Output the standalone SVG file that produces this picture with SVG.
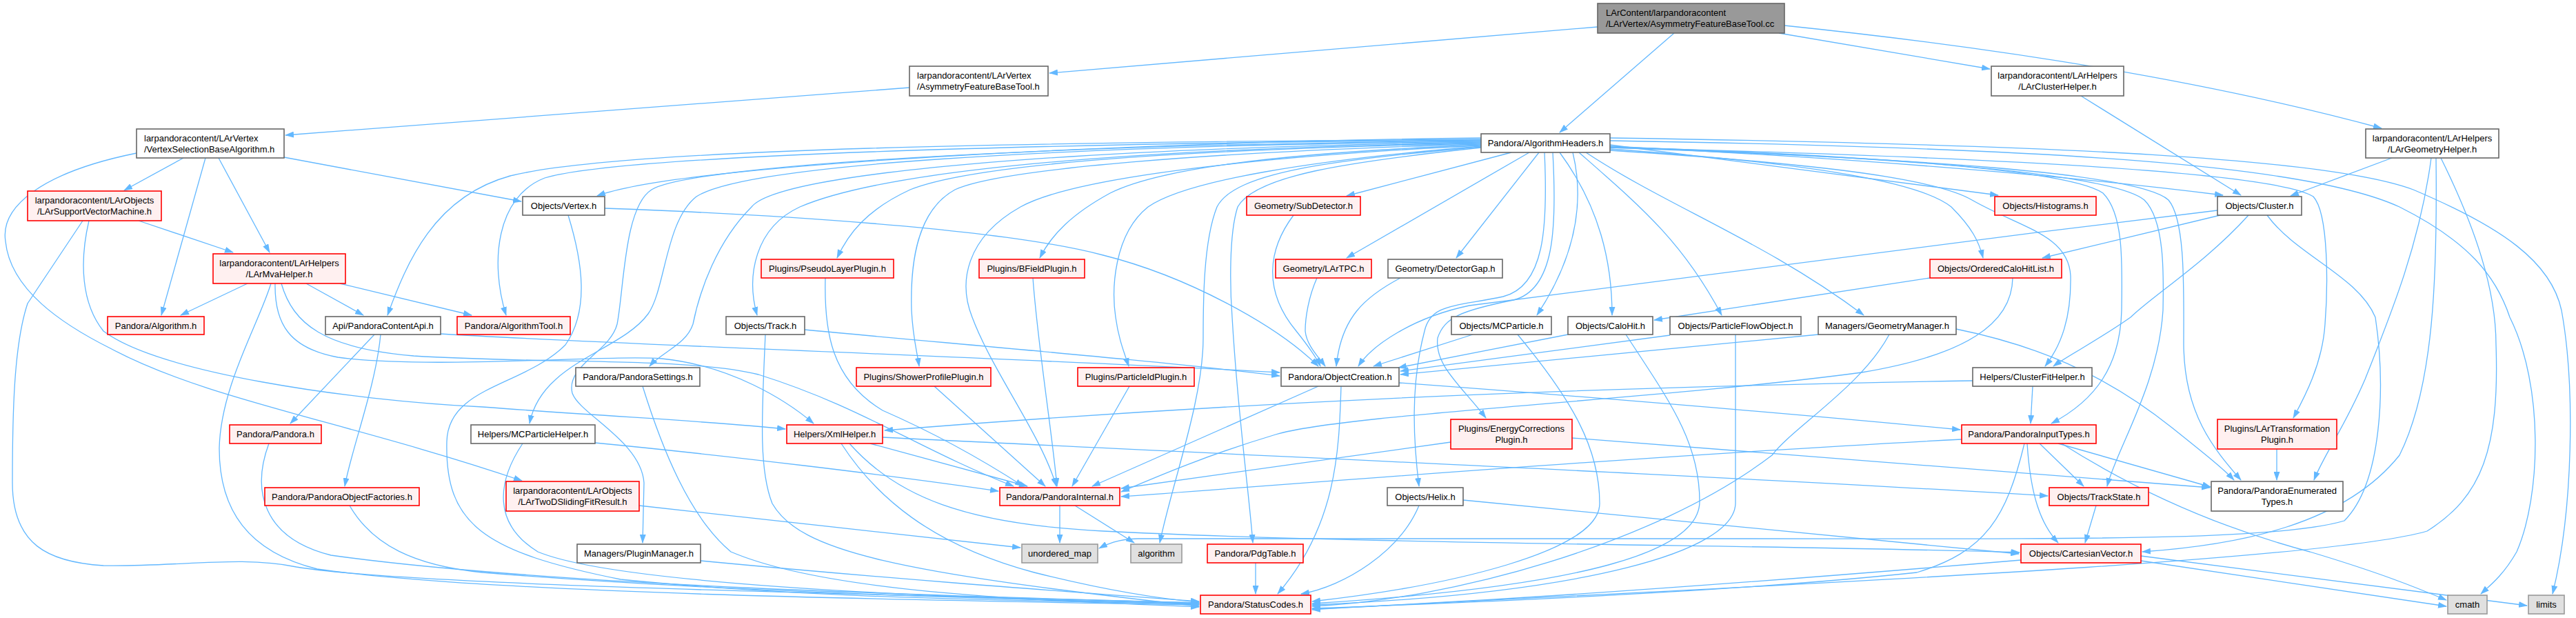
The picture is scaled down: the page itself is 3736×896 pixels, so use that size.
<svg xmlns="http://www.w3.org/2000/svg" width="3736" height="896" viewBox="0 0 3736 896">
<defs>
<style>
.e path{fill:none;stroke:#63b8ff;stroke-width:1.3;marker-end:url(#a)}
rect{stroke-width:1.6}
.w rect{fill:#ffffff;stroke:#666666}
.r rect{fill:#fff0f0;stroke:#ff0000}
.s rect{fill:#e0e0e0;stroke:#999999}
.m rect{fill:#999999;stroke:#666666}
text{font-family:"Liberation Sans",Arial,Helvetica,sans-serif;font-size:13px;fill:#000000;text-anchor:middle}
text.l{text-anchor:start}
</style>
<marker id="a" markerWidth="13" markerHeight="9" refX="12" refY="4.5" orient="auto" markerUnits="userSpaceOnUse"><path d="M0,0 L13,4.5 L0,9 z" fill="#63b8ff"/></marker>
</defs>
<rect x="0" y="0" width="3736" height="896" fill="#ffffff" stroke="none"/>
<g id="connectors" class="e">
<path d="M2317,39 L1522,106"/>
<path d="M2428,48 L2262,192"/>
<path d="M2580,48 L2886,100"/>
<path d="M2588,37 Q3100,90 3454,186"/>
<path d="M1319,127 L414,196"/>
<path d="M3018,139 L3250,283"/>
<path d="M3469,229 L3322,284"/>
<path d="M266,229 L180,276"/>
<path d="M298,229 L234,457"/>
<path d="M317,229 L391,366"/>
<path d="M412,228 L756,292"/>
<path d="M198,222 C60,250 0,300 8,350 C15,420 90,470 160,505 C300,580 500,610 757,697"/>
<path d="M201,320 L338,366"/>
<path d="M129,320 C115,380 118,440 150,480 C230,540 500,580 700,590 C900,605 1050,612 1139,622"/>
<path d="M120,320 L40,440 C20,500 18,600 18,700 C18,790 70,815 150,820 C260,822 350,805 430,822 C600,850 1300,862 1739,874"/>
<path d="M359,411 L262,457"/>
<path d="M444,411 L527,457"/>
<path d="M493,411 L684,457"/>
<path d="M393,411 C375,470 320,560 318,650 C318,740 360,800 460,825 C700,860 1300,870 1739,877"/>
<path d="M399,411 C398,470 420,505 490,518 C620,536 880,514 960,520 C1060,530 1140,580 1180,614"/>
<path d="M408,411 C425,470 470,505 600,516 C800,528 1000,518 1100,543 C1250,590 1330,650 1470,705"/>
<path d="M877,302 C1100,310 1450,330 1600,370 C1720,400 1850,470 1912,531"/>
<path d="M824,312 C845,380 855,450 820,500 C760,560 650,560 648,640 C645,760 700,800 900,840 C1200,870 1500,870 1739,876"/>
<path d="M2148,200 C1700,205 1000,235 866,284"/>
<path d="M2148,202 C1500,206 900,215 740,255 C630,285 590,380 562,457"/>
<path d="M2148,203 C1500,208 900,225 790,258 C720,285 710,380 734,457"/>
<path d="M2148,204 C1500,210 1000,240 945,275 C905,300 905,420 895,470 C885,510 820,530 830,570 C840,600 930,640 934,700 L932,787"/>
<path d="M2148,205 C1500,212 1080,240 1010,285 C965,320 965,420 940,455 C900,510 785,525 768,614"/>
<path d="M2148,206 C1550,215 1130,250 1090,300 C1040,350 1015,420 1005,470 C995,500 960,510 942,531"/>
<path d="M2148,207 C1700,215 1300,240 1160,300 C1095,330 1082,400 1098,457"/>
<path d="M2148,208 C1750,216 1420,235 1320,275 C1255,305 1230,340 1214,374"/>
<path d="M2148,209 C1750,220 1450,245 1385,275 C1330,305 1320,380 1322,450 C1324,490 1330,510 1333,531"/>
<path d="M2148,210 C1850,222 1680,245 1610,280 C1555,310 1525,340 1508,374"/>
<path d="M2148,211 C1850,225 1560,255 1480,300 C1400,345 1390,410 1410,460 C1440,540 1510,630 1532,705"/>
<path d="M2148,212 C1900,232 1720,262 1665,300 C1615,340 1612,420 1618,460 C1622,490 1630,510 1637,531"/>
<path d="M2148,213 C1930,232 1790,250 1765,300 C1745,350 1745,440 1745,490 C1745,580 1700,700 1682,787"/>
<path d="M2148,214 C1950,235 1820,255 1795,300 C1782,340 1784,420 1787,460 C1795,600 1810,700 1817,787"/>
<path d="M2192,221 L1953,284"/>
<path d="M2218,221 L1953,374"/>
<path d="M2232,221 L2112,374"/>
<path d="M2281,221 C2300,300 2280,380 2229,457"/>
<path d="M2262,221 C2320,300 2338,380 2338,457"/>
<path d="M2290,221 C2380,300 2440,350 2497,457"/>
<path d="M2300,221 C2420,300 2560,350 2703,457"/>
<path d="M2240,221 C2245,330 2240,415 2180,430 C2110,445 2075,440 2066,480 C2045,560 2050,640 2058,705"/>
<path d="M2252,221 C2258,330 2255,420 2195,435 C2120,450 2095,460 2085,490 C2080,530 2120,560 2155,606"/>
<path d="M2335,210 L2898,283"/>
<path d="M2335,212 C2700,230 3000,255 3224,283"/>
<path d="M2335,216 C2600,235 2780,260 2830,300 C2860,330 2870,350 2876,374"/>
<path d="M2335,218 C2600,235 2800,255 2860,290 C2930,330 3000,340 3003,400 C3004,460 2990,500 2966,531"/>
<path d="M2335,213 C2700,225 3000,245 3050,280 C3080,310 3078,380 3077,450 C3075,530 3040,580 2975,614"/>
<path d="M2335,213 C2750,228 3060,250 3110,290 C3140,320 3138,400 3137,450 C3130,560 3070,650 3056,705"/>
<path d="M2335,214 C2780,230 3100,250 3145,290 C3170,320 3167,420 3167,500 C3168,600 3210,650 3250,696"/>
<path d="M2335,214 C2900,228 3300,250 3355,285 C3378,310 3376,420 3372,470 C3368,530 3340,580 3326,606"/>
<path d="M2335,204 C3000,215 3350,240 3480,300 C3580,350 3620,400 3640,460 C3690,560 3685,720 3650,800 C3630,835 3610,850 3598,861"/>
<path d="M2335,200 C3000,210 3380,230 3500,275 C3630,330 3700,380 3715,450 C3735,560 3732,740 3702,861"/>
<path d="M543,485 L421,614"/>
<path d="M552,485 C545,560 510,650 500,705"/>
<path d="M639,484 C900,500 1500,520 1856,540"/>
<path d="M1167,478 C1400,500 1700,525 1856,545"/>
<path d="M1110,485 C1105,600 1100,680 1120,730 C1160,800 1300,830 1739,879"/>
<path d="M932,560 C960,650 1000,750 1060,800 C1200,860 1500,870 1739,880"/>
<path d="M1197,403 C1195,480 1205,550 1280,595 C1360,630 1430,670 1484,705"/>
<path d="M1355,560 L1516,705"/>
<path d="M1498,403 C1505,500 1525,620 1533,705"/>
<path d="M1638,560 L1555,705"/>
<path d="M1262,643 L1490,705"/>
<path d="M1232,643 C1300,720 1400,760 1600,770 C2000,790 2600,790 2929,801"/>
<path d="M1220,643 C1270,720 1350,790 1500,830 C1600,855 1680,868 1739,873"/>
<path d="M1280,634 C1700,655 2500,690 2970,719"/>
<path d="M1912,560 L1584,705"/>
<path d="M1945,560 C1942,650 1940,760 1853,861"/>
<path d="M2029,555 C2300,575 2600,600 2843,623"/>
<path d="M1876,312 C1840,360 1830,420 1880,480 C1900,505 1910,520 1915,531"/>
<path d="M1910,403 C1898,430 1893,460 1893,480 C1895,500 1910,515 1922,531"/>
<path d="M2031,403 C1980,430 1945,460 1938,531"/>
<path d="M2136,485 L1992,531"/>
<path d="M2274,485 L2028,533"/>
<path d="M2422,486 L2031,538"/>
<path d="M2637,485 L2031,543"/>
<path d="M3216,305 C2800,355 2300,420 2131,443 C2050,460 1990,500 1970,531"/>
<path d="M2799,403 L2399,464"/>
<path d="M2919,403 C2918,470 2850,515 2700,540 C2400,580 1950,600 1850,630 C1750,660 1680,690 1626,713"/>
<path d="M2201,485 C2280,580 2320,650 2320,730 C2320,800 2100,850 1903,872"/>
<path d="M2358,485 C2420,580 2465,640 2465,727 C2465,800 2300,850 1903,875"/>
<path d="M2517,485 L2517,730 C2515,800 2300,860 1903,877"/>
<path d="M2740,485 C2700,560 2600,620 2570,660 C2400,790 2100,870 1903,879"/>
<path d="M2837,477 C2950,500 3050,540 3150,620 C3200,660 3225,680 3240,696"/>
<path d="M2948,560 L2945,614"/>
<path d="M2861,552 C2400,560 1900,575 1283,624"/>
<path d="M2104,641 C1900,670 1750,690 1626,708"/>
<path d="M2280,635 C2600,660 3000,690 3205,707"/>
<path d="M2845,637 C2400,660 1900,700 1626,720"/>
<path d="M2958,643 L3022,705"/>
<path d="M2985,643 L3206,706"/>
<path d="M2990,643 C3080,700 3200,760 3350,800 C3450,830 3500,850 3548,870"/>
<path d="M2940,643 C2945,720 2960,760 2985,787"/>
<path d="M2936,643 C2910,750 2880,800 2780,830 C2500,860 2100,875 1903,882"/>
<path d="M3302,651 L3302,696"/>
<path d="M3040,733 L3024,787"/>
<path d="M2931,812 C2600,840 2200,870 1903,883"/>
<path d="M3105,813 L3548,879"/>
<path d="M3105,806 L3665,878"/>
<path d="M2122,725 L2928,803"/>
<path d="M2058,733 C2030,800 1950,850 1887,861"/>
<path d="M1821,816 L1821,861"/>
<path d="M1537,733 L1537,787"/>
<path d="M1559,733 L1645,787"/>
<path d="M927,733 L1480,794"/>
<path d="M3261,312 C3200,380 3120,430 3090,460 C3040,495 3000,515 2978,531"/>
<path d="M3220,312 L2962,374"/>
<path d="M3288,312 C3330,370 3420,400 3445,460 C3460,560 3455,700 3400,755 C3300,785 3000,781 2500,781 L1650,781 C1620,782 1605,789 1594,795"/>
<path d="M3526,229 C3510,350 3470,450 3430,550 C3400,620 3370,660 3356,696"/>
<path d="M3533,229 C3535,400 3530,560 3480,660 C3400,760 3250,790 3107,800"/>
<path d="M3540,229 C3590,330 3620,420 3620,500 C3625,650 3600,720 3520,770 C3350,820 2300,860 1903,884"/>
<path d="M390,643 C365,710 380,780 480,805 C800,850 1400,865 1739,874"/>
<path d="M507,733 C540,790 600,820 700,830 C1000,855 1400,868 1739,875"/>
<path d="M863,642 C1050,660 1300,690 1448,712"/>
<path d="M758,643 C720,700 715,760 780,800 C900,850 1400,868 1739,876"/>
<path d="M1016,813 C1300,840 1550,858 1739,872"/>
</g>
<g id="n0" class="m"><rect x="2317" y="5" width="271" height="43"/><text class="l" x="2329" y="23">LArContent/larpandoracontent</text><text class="l" x="2329" y="39">/LArVertex/AsymmetryFeatureBaseTool.cc</text></g>
<g id="n1" class="w"><rect x="1319" y="96" width="201" height="43"/><text class="l" x="1330" y="114">larpandoracontent/LArVertex</text><text class="l" x="1330" y="130">/AsymmetryFeatureBaseTool.h</text></g>
<g id="n2" class="w"><rect x="2888" y="96" width="192" height="43"/><text x="2984" y="114">larpandoracontent/LArHelpers</text><text x="2984" y="130">/LArClusterHelper.h</text></g>
<g id="n3" class="w"><rect x="2148" y="194" width="187" height="27"/><text x="2241.5" y="212">Pandora/AlgorithmHeaders.h</text></g>
<g id="n4" class="w"><rect x="3431" y="187" width="193" height="42"/><text x="3527.5" y="205">larpandoracontent/LArHelpers</text><text x="3527.5" y="221">/LArGeometryHelper.h</text></g>
<g id="n5" class="w"><rect x="198" y="187" width="214" height="42"/><text class="l" x="209" y="205">larpandoracontent/LArVertex</text><text class="l" x="209" y="221">/VertexSelectionBaseAlgorithm.h</text></g>
<g id="n6" class="r"><rect x="40" y="277" width="194" height="43"/><text x="137" y="295">larpandoracontent/LArObjects</text><text x="137" y="311">/LArSupportVectorMachine.h</text></g>
<g id="n7" class="w"><rect x="758" y="285" width="119" height="27"/><text x="817.5" y="303">Objects/Vertex.h</text></g>
<g id="n8" class="r"><rect x="1808" y="285" width="165" height="27"/><text x="1890.5" y="303">Geometry/SubDetector.h</text></g>
<g id="n9" class="r"><rect x="2893" y="285" width="147" height="27"/><text x="2966.5" y="303">Objects/Histograms.h</text></g>
<g id="n10" class="w"><rect x="3216" y="285" width="122" height="27"/><text x="3277" y="303">Objects/Cluster.h</text></g>
<g id="n11" class="r"><rect x="309" y="368" width="192" height="43"/><text x="405" y="386">larpandoracontent/LArHelpers</text><text x="405" y="402">/LArMvaHelper.h</text></g>
<g id="n12" class="r"><rect x="1104" y="376" width="192" height="27"/><text x="1200" y="394">Plugins/PseudoLayerPlugin.h</text></g>
<g id="n13" class="r"><rect x="1420" y="376" width="153" height="27"/><text x="1496.5" y="394">Plugins/BFieldPlugin.h</text></g>
<g id="n14" class="r"><rect x="1850" y="376" width="139" height="27"/><text x="1919.5" y="394">Geometry/LArTPC.h</text></g>
<g id="n15" class="w"><rect x="2013" y="376" width="166" height="27"/><text x="2096" y="394">Geometry/DetectorGap.h</text></g>
<g id="n16" class="r"><rect x="2799" y="376" width="191" height="27"/><text x="2894.5" y="394">Objects/OrderedCaloHitList.h</text></g>
<g id="n17" class="r"><rect x="156" y="459" width="140" height="26"/><text x="226" y="477">Pandora/Algorithm.h</text></g>
<g id="n18" class="w"><rect x="472" y="459" width="167" height="26"/><text x="555.5" y="477">Api/PandoraContentApi.h</text></g>
<g id="n19" class="r"><rect x="663" y="459" width="164" height="26"/><text x="745" y="477">Pandora/AlgorithmTool.h</text></g>
<g id="n20" class="w"><rect x="1053" y="459" width="114" height="26"/><text x="1110" y="477">Objects/Track.h</text></g>
<g id="n21" class="w"><rect x="2105" y="459" width="145" height="26"/><text x="2177.5" y="477">Objects/MCParticle.h</text></g>
<g id="n22" class="w"><rect x="2274" y="459" width="123" height="26"/><text x="2335.5" y="477">Objects/CaloHit.h</text></g>
<g id="n23" class="w"><rect x="2422" y="459" width="190" height="26"/><text x="2517" y="477">Objects/ParticleFlowObject.h</text></g>
<g id="n24" class="w"><rect x="2637" y="459" width="200" height="26"/><text x="2737" y="477">Managers/GeometryManager.h</text></g>
<g id="n25" class="w"><rect x="835" y="533" width="180" height="27"/><text x="925" y="551">Pandora/PandoraSettings.h</text></g>
<g id="n26" class="r"><rect x="1242" y="533" width="195" height="27"/><text x="1339.5" y="551">Plugins/ShowerProfilePlugin.h</text></g>
<g id="n27" class="r"><rect x="1563" y="533" width="169" height="27"/><text x="1647.5" y="551">Plugins/ParticleIdPlugin.h</text></g>
<g id="n28" class="w"><rect x="1858" y="533" width="171" height="27"/><text x="1943.5" y="551">Pandora/ObjectCreation.h</text></g>
<g id="n29" class="w"><rect x="2861" y="533" width="173" height="27"/><text x="2947.5" y="551">Helpers/ClusterFitHelper.h</text></g>
<g id="n30" class="r"><rect x="2104" y="608" width="176" height="43"/><text x="2192" y="626">Plugins/EnergyCorrections</text><text x="2192" y="642">Plugin.h</text></g>
<g id="n31" class="r"><rect x="3216" y="608" width="173" height="43"/><text x="3302.5" y="626">Plugins/LArTransformation</text><text x="3302.5" y="642">Plugin.h</text></g>
<g id="n32" class="r"><rect x="333" y="616" width="133" height="27"/><text x="399.5" y="634">Pandora/Pandora.h</text></g>
<g id="n33" class="w"><rect x="683" y="616" width="180" height="27"/><text x="773" y="634">Helpers/MCParticleHelper.h</text></g>
<g id="n34" class="r"><rect x="1141" y="616" width="139" height="27"/><text x="1210.5" y="634">Helpers/XmlHelper.h</text></g>
<g id="n35" class="r"><rect x="2845" y="616" width="195" height="27"/><text x="2942.5" y="634">Pandora/PandoraInputTypes.h</text></g>
<g id="n36" class="r"><rect x="734" y="698" width="193" height="43"/><text x="830.5" y="716">larpandoracontent/LArObjects</text><text x="830.5" y="732">/LArTwoDSlidingFitResult.h</text></g>
<g id="n37" class="w"><rect x="3207" y="698" width="191" height="43"/><text x="3302.5" y="716">Pandora/PandoraEnumerated</text><text x="3302.5" y="732">Types.h</text></g>
<g id="n38" class="r"><rect x="384" y="707" width="224" height="26"/><text x="496" y="725">Pandora/PandoraObjectFactories.h</text></g>
<g id="n39" class="r"><rect x="1450" y="707" width="174" height="26"/><text x="1537" y="725">Pandora/PandoraInternal.h</text></g>
<g id="n40" class="w"><rect x="2012" y="707" width="110" height="26"/><text x="2067" y="725">Objects/Helix.h</text></g>
<g id="n41" class="r"><rect x="2972" y="707" width="144" height="26"/><text x="3044" y="725">Objects/TrackState.h</text></g>
<g id="n42" class="w"><rect x="837" y="789" width="179" height="27"/><text x="926.5" y="807">Managers/PluginManager.h</text></g>
<g id="n43" class="s"><rect x="1482" y="789" width="110" height="27"/><text x="1537" y="807">unordered_map</text></g>
<g id="n44" class="s"><rect x="1640" y="789" width="74" height="27"/><text x="1677" y="807">algorithm</text></g>
<g id="n45" class="r"><rect x="1751" y="789" width="139" height="27"/><text x="1820.5" y="807">Pandora/PdgTable.h</text></g>
<g id="n46" class="r"><rect x="2931" y="789" width="174" height="27"/><text x="3018" y="807">Objects/CartesianVector.h</text></g>
<g id="n47" class="r"><rect x="1741" y="863" width="160" height="27"/><text x="1821" y="881">Pandora/StatusCodes.h</text></g>
<g id="n48" class="s"><rect x="3550" y="863" width="57" height="27"/><text x="3578.5" y="881">cmath</text></g>
<g id="n49" class="s"><rect x="3667" y="863" width="52" height="27"/><text x="3693" y="881">limits</text></g>
</svg>
